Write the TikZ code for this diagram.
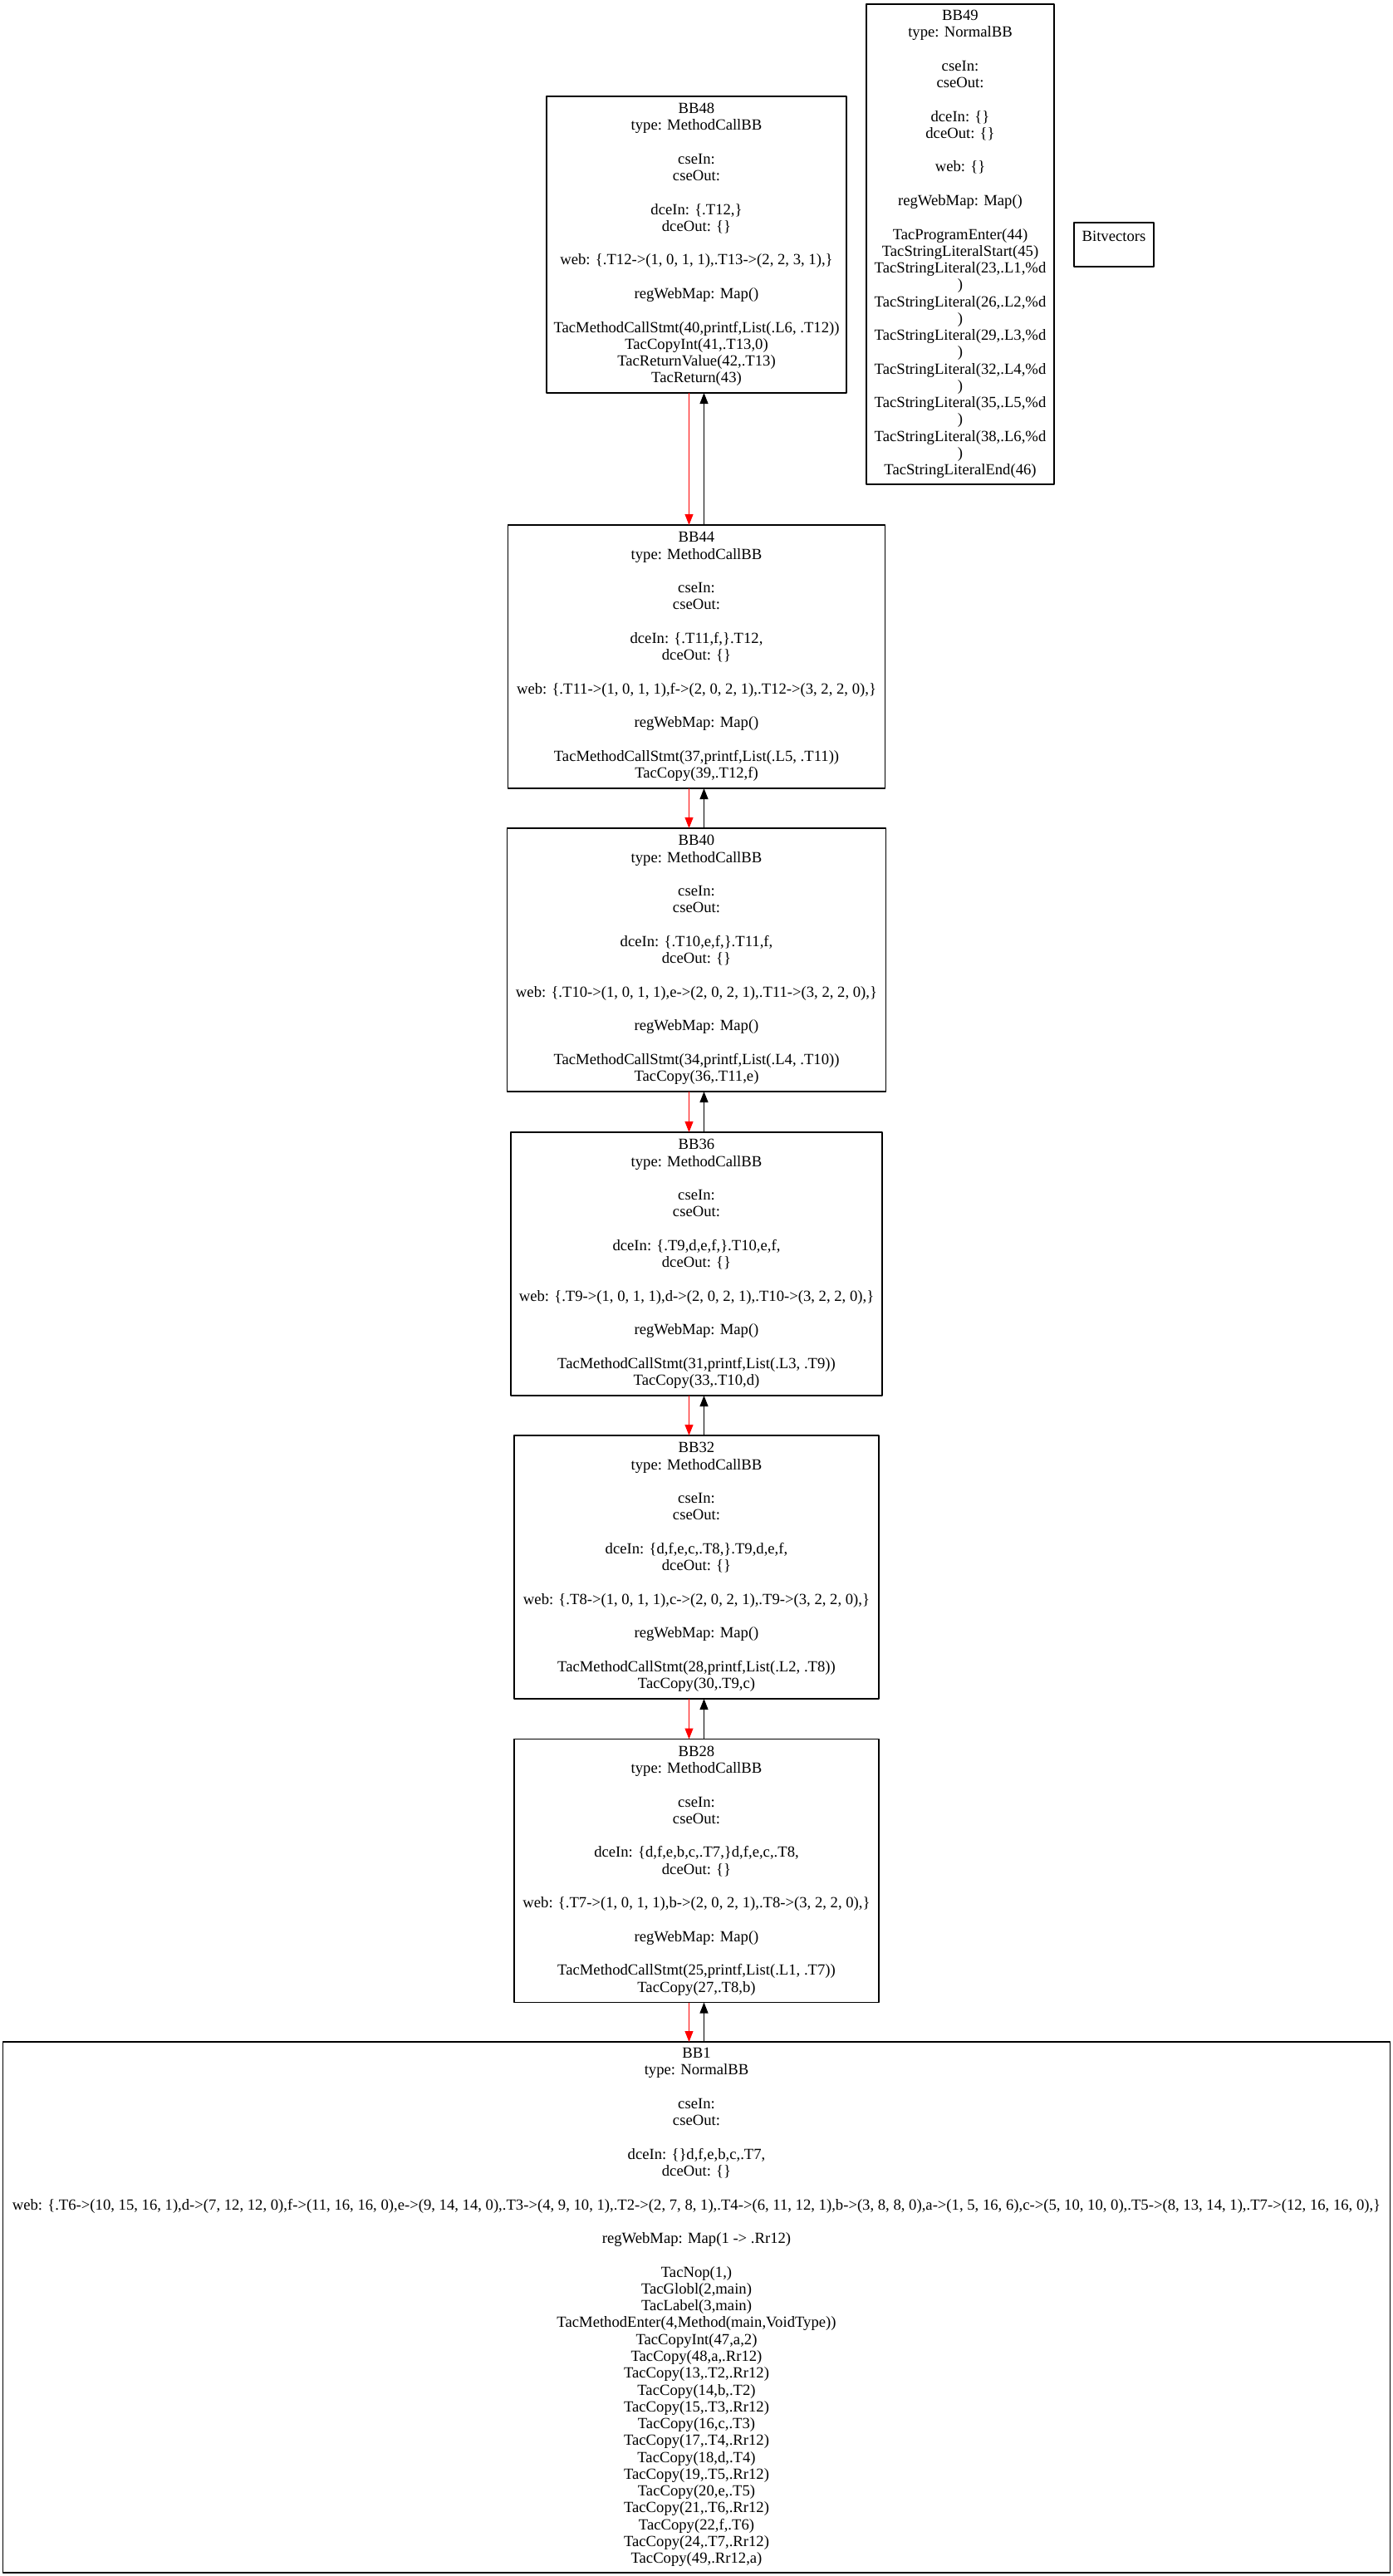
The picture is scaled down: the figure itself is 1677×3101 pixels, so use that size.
\documentclass[tikz,border=0pt]{standalone}
\usepackage{fontspec}
\setmainfont{Liberation Serif}
\usepackage{xcolor}
\usepackage{tikz}
\usetikzlibrary{arrows.meta,calc}

\begin{document}
\begin{tikzpicture}[x=0.75pt,y=-0.75pt,line join=round,
  bb/.style={draw,line width=0.9pt,inner sep=0pt,outer sep=0pt,align=center,
    font=\fontsize{14pt}{15.2pt}\selectfont},
  redge/.style={draw=red,line width=0.8pt,-{Triangle[length=9.75pt,width=7.5pt]}},
  bedge/.style={draw=black,line width=0.8pt,-{Triangle[length=9.75pt,width=7.5pt]}}]
  \useasboundingbox (0,0) rectangle (1677,3101);
  \node[bb,minimum width=169.5pt,minimum height=433.5pt] (BB49) at (1156,294) {BB49\\type: NormalBB\\ \\cseIn:\\cseOut:\\ \\dceIn: \{\}\\dceOut: \{\}\\ \\web: \{\}\\ \\regWebMap: Map()\\ \\TacProgramEnter(44)\\TacStringLiteralStart(45)\\TacStringLiteral(23,.L1,\%d\\)\\TacStringLiteral(26,.L2,\%d\\)\\TacStringLiteral(29,.L3,\%d\\)\\TacStringLiteral(32,.L4,\%d\\)\\TacStringLiteral(35,.L5,\%d\\)\\TacStringLiteral(38,.L6,\%d\\)\\TacStringLiteralEnd(46)};
  \node[bb,minimum width=72pt,minimum height=39.75pt] (BV) at (1341,294.5) {Bitvectors\\ };
  \node[bb,minimum width=270.75pt,minimum height=267.75pt] (BB48) at (838.5,294.5) {BB48\\type: MethodCallBB\\ \\cseIn:\\cseOut:\\ \\dceIn: \{.T12,\}\\dceOut: \{\}\\ \\web: \{.T12->(1, 0, 1, 1),.T13->(2, 2, 3, 1),\}\\ \\regWebMap: Map()\\ \\TacMethodCallStmt(40,printf,List(.L6, .T12))\\TacCopyInt(41,.T13,0)\\TacReturnValue(42,.T13)\\TacReturn(43)};
  \node[bb,minimum width=340.5pt,minimum height=237.75pt] (BB44) at (838.5,790.5) {BB44\\type: MethodCallBB\\ \\cseIn:\\cseOut:\\ \\dceIn: \{.T11,f,\}.T12,\\dceOut: \{\}\\ \\web: \{.T11->(1, 0, 1, 1),f->(2, 0, 2, 1),.T12->(3, 2, 2, 0),\}\\ \\regWebMap: Map()\\ \\TacMethodCallStmt(37,printf,List(.L5, .T11))\\TacCopy(39,.T12,f)};
  \node[bb,minimum width=342pt,minimum height=237.75pt] (BB40) at (838.5,1155.5) {BB40\\type: MethodCallBB\\ \\cseIn:\\cseOut:\\ \\dceIn: \{.T10,e,f,\}.T11,f,\\dceOut: \{\}\\ \\web: \{.T10->(1, 0, 1, 1),e->(2, 0, 2, 1),.T11->(3, 2, 2, 0),\}\\ \\regWebMap: Map()\\ \\TacMethodCallStmt(34,printf,List(.L4, .T10))\\TacCopy(36,.T11,e)};
  \node[bb,minimum width=335.25pt,minimum height=237.75pt] (BB36) at (838.5,1521.5) {BB36\\type: MethodCallBB\\ \\cseIn:\\cseOut:\\ \\dceIn: \{.T9,d,e,f,\}.T10,e,f,\\dceOut: \{\}\\ \\web: \{.T9->(1, 0, 1, 1),d->(2, 0, 2, 1),.T10->(3, 2, 2, 0),\}\\ \\regWebMap: Map()\\ \\TacMethodCallStmt(31,printf,List(.L3, .T9))\\TacCopy(33,.T10,d)};
  \node[bb,minimum width=329.25pt,minimum height=237.75pt] (BB32) at (838.5,1886.5) {BB32\\type: MethodCallBB\\ \\cseIn:\\cseOut:\\ \\dceIn: \{d,f,e,c,.T8,\}.T9,d,e,f,\\dceOut: \{\}\\ \\web: \{.T8->(1, 0, 1, 1),c->(2, 0, 2, 1),.T9->(3, 2, 2, 0),\}\\ \\regWebMap: Map()\\ \\TacMethodCallStmt(28,printf,List(.L2, .T8))\\TacCopy(30,.T9,c)};
  \node[bb,minimum width=329.25pt,minimum height=237.75pt] (BB28) at (838.5,2252) {BB28\\type: MethodCallBB\\ \\cseIn:\\cseOut:\\ \\dceIn: \{d,f,e,b,c,.T7,\}d,f,e,c,.T8,\\dceOut: \{\}\\ \\web: \{.T7->(1, 0, 1, 1),b->(2, 0, 2, 1),.T8->(3, 2, 2, 0),\}\\ \\regWebMap: Map()\\ \\TacMethodCallStmt(25,printf,List(.L1, .T7))\\TacCopy(27,.T8,b)};
  \node[bb,minimum width=1252.5pt,minimum height=479.25pt] (BB1) at (838.5,2777.5) {BB1\\type: NormalBB\\ \\cseIn:\\cseOut:\\ \\dceIn: \{\}d,f,e,b,c,.T7,\\dceOut: \{\}\\ \\web: \{.T6->(10, 15, 16, 1),d->(7, 12, 12, 0),f->(11, 16, 16, 0),e->(9, 14, 14, 0),.T3->(4, 9, 10, 1),.T2->(2, 7, 8, 1),.T4->(6, 11, 12, 1),b->(3, 8, 8, 0),a->(1, 5, 16, 6),c->(5, 10, 10, 0),.T5->(8, 13, 14, 1),.T7->(12, 16, 16, 0),\}\\ \\regWebMap: Map(1 -> .Rr12)\\ \\TacNop(1,)\\TacGlobl(2,main)\\TacLabel(3,main)\\TacMethodEnter(4,Method(main,VoidType))\\TacCopyInt(47,a,2)\\TacCopy(48,a,.Rr12)\\TacCopy(13,.T2,.Rr12)\\TacCopy(14,b,.T2)\\TacCopy(15,.T3,.Rr12)\\TacCopy(16,c,.T3)\\TacCopy(17,.T4,.Rr12)\\TacCopy(18,d,.T4)\\TacCopy(19,.T5,.Rr12)\\TacCopy(20,e,.T5)\\TacCopy(21,.T6,.Rr12)\\TacCopy(22,f,.T6)\\TacCopy(24,.T7,.Rr12)\\TacCopy(49,.Rr12,a)};
  \draw[redge] ($(BB48.south)+(-9,0)$) -- ($(BB44.north)+(-9,0)$);
  \draw[bedge] ($(BB44.north)+(9,0)$) -- ($(BB48.south)+(9,0)$);
  \draw[redge] ($(BB44.south)+(-9,0)$) -- ($(BB40.north)+(-9,0)$);
  \draw[bedge] ($(BB40.north)+(9,0)$) -- ($(BB44.south)+(9,0)$);
  \draw[redge] ($(BB40.south)+(-9,0)$) -- ($(BB36.north)+(-9,0)$);
  \draw[bedge] ($(BB36.north)+(9,0)$) -- ($(BB40.south)+(9,0)$);
  \draw[redge] ($(BB36.south)+(-9,0)$) -- ($(BB32.north)+(-9,0)$);
  \draw[bedge] ($(BB32.north)+(9,0)$) -- ($(BB36.south)+(9,0)$);
  \draw[redge] ($(BB32.south)+(-9,0)$) -- ($(BB28.north)+(-9,0)$);
  \draw[bedge] ($(BB28.north)+(9,0)$) -- ($(BB32.south)+(9,0)$);
  \draw[redge] ($(BB28.south)+(-9,0)$) -- ($(BB1.north)+(-9,0)$);
  \draw[bedge] ($(BB1.north)+(9,0)$) -- ($(BB28.south)+(9,0)$);
\end{tikzpicture}
\end{document}
